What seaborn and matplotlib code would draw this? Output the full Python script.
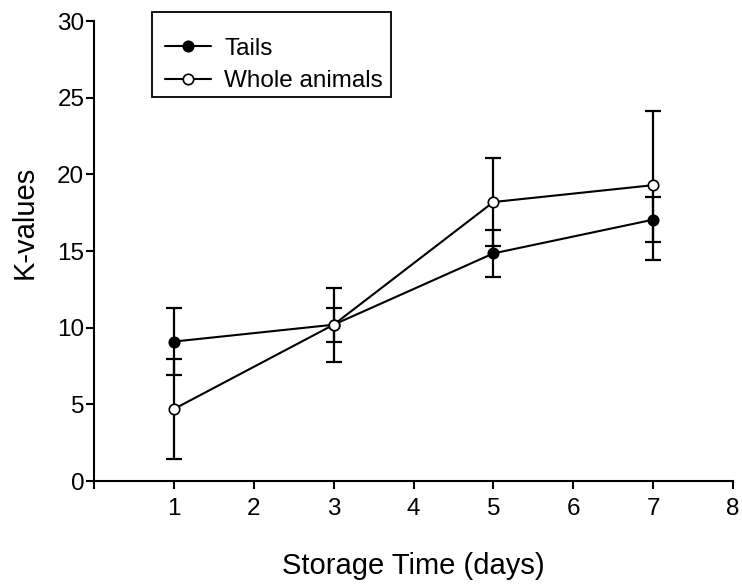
import matplotlib
matplotlib.use("Agg")
import matplotlib.pyplot as plt
from matplotlib.patches import Rectangle
import seaborn as sns
import pandas as pd

# Storage time (days) and mean K-values with their error margins
days = [1, 3, 5, 7]
tails = [9.1, 10.2, 14.85, 17.05]
tails_err = [2.2, 1.1, 1.55, 1.45]
whole = [4.7, 10.2, 18.2, 19.3]
whole_err = [3.25, 2.4, 2.85, 4.85]

x_ticks = [0, 1, 2, 3, 4, 5, 6, 7, 8]
x_tick_labels = ["", "1", "2", "3", "4", "5", "6", "7", "8"]
y_ticks = [0, 5, 10, 15, 20, 25, 30]

sns.set_theme(style="ticks")
plt.rcParams["font.family"] = ["Liberation Sans", "DejaVu Sans"]
plt.rcParams["text.color"] = "black"

df_tails = pd.DataFrame({"day": days, "k": tails})
df_whole = pd.DataFrame({"day": days, "k": whole})

fig = plt.figure(figsize=(7.42, 5.86), dpi=100)
ax = fig.add_axes([0.1267, 0.179, 0.8612, 0.785])

# error bars underneath the markers
ax.errorbar(days, tails, yerr=tails_err, fmt="none", ecolor="black",
            elinewidth=1.6, capsize=5.5, capthick=1.6, zorder=2)
ax.errorbar(days, whole, yerr=whole_err, fmt="none", ecolor="black",
            elinewidth=1.6, capsize=5.5, capthick=1.6, zorder=2)

sns.lineplot(data=df_tails, x="day", y="k", ax=ax, color="black",
             marker="o", markersize=7.5, markerfacecolor="black",
             markeredgecolor="black", markeredgewidth=1.2,
             linewidth=1.5, label="Tails", zorder=3)
sns.lineplot(data=df_whole, x="day", y="k", ax=ax, color="black",
             marker="o", markersize=7.5, markerfacecolor="white",
             markeredgecolor="black", markeredgewidth=1.2,
             linewidth=1.5, label="Whole animals", zorder=4)

ax.set_xlim(0, 8)
ax.set_ylim(0, 30)
ax.set_xticks(x_ticks)
ax.set_xticklabels(x_tick_labels)
ax.set_yticks(y_ticks)
ax.tick_params(axis="both", which="major", labelsize=17.5, length=6,
               width=1.5, color="black", labelcolor="black", direction="out")
ax.tick_params(axis="x", pad=6.5)
ax.tick_params(axis="y", pad=1)

for side in ("top", "right"):
    ax.spines[side].set_visible(False)
for side in ("left", "bottom"):
    ax.spines[side].set_linewidth(1.5)
    ax.spines[side].set_color("black")

ax.set_xlabel("Storage Time (days)", fontsize=21, color="black", labelpad=23)
ax.set_ylabel("K-values", fontsize=21, color="black")
ax.yaxis.set_label_coords(-0.086, 0.562)

# legend entries without a frame, boxed by a separate rectangle
leg = ax.legend(loc="upper left", bbox_to_anchor=(0.111, 0.964),
                fontsize=17.5, frameon=False, borderpad=0,
                handlelength=1.9, handletextpad=0.55, labelspacing=0.44,
                borderaxespad=0, labelcolor="black")
leg.set_clip_on(False)
ax.add_patch(Rectangle((0.0908, 0.835), 0.374, 0.185, transform=ax.transAxes,
                       fill=False, edgecolor="black", linewidth=1.3,
                       clip_on=False, zorder=5))

fig.savefig("out.png", dpi=100)
